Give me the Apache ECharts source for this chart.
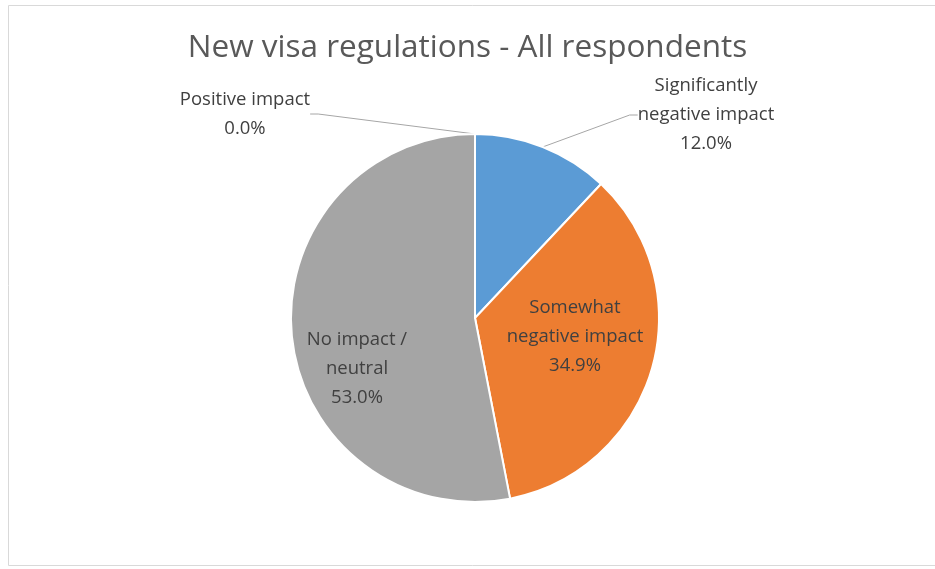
<!DOCTYPE html>
<html>
<head>
<meta charset="utf-8">
<script src="https://cdn.jsdelivr.net/npm/echarts@6/dist/echarts.min.js"></script>
<style>
  html, body { margin: 0; padding: 0; background: #fff; }
  #chart { width: 935px; height: 569px; }
</style>
</head>
<body>
<div id="chart"></div>
<script>
// Survey answers, in clockwise order from 12 o'clock
const categories = [
  'Significantly\nnegative impact',
  'Somewhat\nnegative impact',
  'No impact /\nneutral',
  'Positive impact'
];
const shares = [12.0, 34.9, 53.0, 0.0];
const colors = ['#5B9BD5', '#ED7D31', '#A5A5A5', '#FFC000'];
const titleText = 'New visa regulations - All respondents';

// Label placement per slice: outside for the thin slices, inside for the big ones
const labelPlacement = ['outside', 'inside', 'inside', 'outside'];
const labelAnchor = [
  { x: 706, y: 115 },
  { x: 575, y: 337 },
  { x: 357, y: 369 },
  { x: 245, y: 114 }
];

const FONT = '"Open Sans", sans-serif';

const chart = echarts.init(document.getElementById('chart'));

const data = categories.map((name, i) => ({
  name: name,
  value: shares[i],
  itemStyle: { color: colors[i] },
  label: { position: labelPlacement[i] }
}));

chart.setOption({
  animation: false,
  graphic: [{
    type: 'rect',
    shape: { x: 8.5, y: 5.5, width: 940, height: 560 },
    style: { fill: 'none', stroke: '#D9D9D9', lineWidth: 1 },
    silent: true
  }],
  title: {
    text: titleText,
    left: 'center',
    top: 27,
    textStyle: { fontFamily: FONT, fontSize: 31.5, fontWeight: 'normal', color: '#595959' }
  },
  series: [{
    type: 'pie',
    center: [475, 318],
    radius: [0, 184],
    startAngle: 90,
    clockwise: true,
    stillShowZeroSum: true,
    avoidLabelOverlap: false,
    itemStyle: { borderColor: '#FFFFFF', borderWidth: 2 },
    label: {
      show: true,
      formatter: p => p.name + '\n' + p.value.toFixed(1) + '%',
      fontFamily: FONT,
      fontSize: 18.5,
      lineHeight: 29,
      color: '#404040',
      align: 'center'
    },
    labelLine: {
      show: true,
      length: 20,
      length2: 8,
      lineStyle: { color: '#A6A6A6', width: 1 }
    },
    labelLayout: function (params) {
      const a = labelAnchor[params.dataIndex];
      return { x: a.x, y: a.y, align: 'center', verticalAlign: 'middle' };
    },
    data: data
  }]
});
</script>
</body>
</html>
